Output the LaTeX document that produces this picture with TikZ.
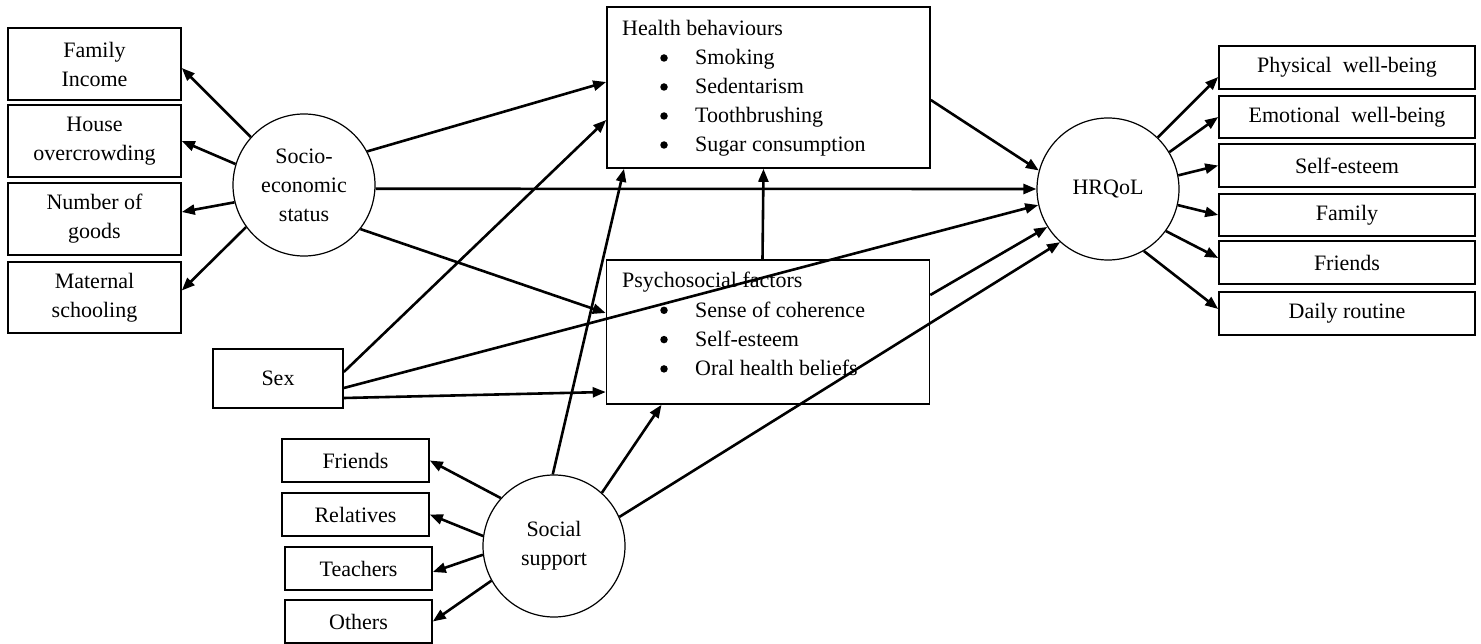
\documentclass[tikz,border=0pt]{standalone}
\usepackage{fontspec}
\setmainfont{Liberation Serif}
\usetikzlibrary{arrows.meta}

\begin{document}
\begin{tikzpicture}[x=1pt,y=-1pt,
  txt/.style={font=\fontsize{22}{29}\selectfont},
  box/.style={txt,draw,line width=1.6pt,inner sep=0pt,align=center},
  latent/.style={txt,draw,circle,line width=1.2pt,inner sep=0pt,minimum size=142pt,align=center},
  path/.style={line width=2.6pt,-{Triangle[length=13pt,width=10pt]}},
  item/.style={txt,anchor=base west,inner sep=0pt},
  dot/.style={circle,fill,inner sep=0pt,minimum size=7.5pt}
]
\useasboundingbox (0,0) rectangle (1481,644);

% socio-economic status and its indicators
\node[latent] (ses) at (304,185) {Socio-\\economic\\status};
\node[box,minimum width=173pt,minimum height=72pt] (fi) at (94.5,64) {Family\\Income};
\node[box,minimum width=173pt,minimum height=72pt] (ho) at (94.5,141) {House\\overcrowding};
\node[box,minimum width=173pt,minimum height=72pt] (ng) at (94.5,219) {Number of\\goods};
\node[box,minimum width=173pt,minimum height=71pt] (ms) at (94.5,297.5) {Maternal\\schooling};

% sex
\node[box,minimum width=130pt,minimum height=59pt] (sex) at (278,378.5) {Sex};

% social support and its indicators
\node[latent] (soc) at (554,546) {Social\\support};
\node[box,minimum width=147pt,minimum height=43pt] (sf) at (355.5,460.5) {Friends};
\node[box,minimum width=147pt,minimum height=43pt] (sr) at (355.5,514.5) {Relatives};
\node[box,minimum width=147pt,minimum height=43pt] (st) at (358.5,568.5) {Teachers};
\node[box,minimum width=147pt,minimum height=43pt] (so) at (358.5,621.5) {Others};

% mediators
\node[box,minimum width=323pt,minimum height=161pt] (hb) at (768.5,87.5) {};
\node[item] (hbt) at (622,36) {Health\ behaviours};
\foreach \t [count=\i] in {Smoking,Sedentarism,Toothbrushing,Sugar consumption}{
  \node[dot] (hbb\i) at (664,{29+29*\i}) {};
  \node[item] (hbi\i) at (695,{36+29*\i}) {\t};
}
\node[box,minimum width=323pt,minimum height=144pt] (psy) at (768,332) {};
\node[item] (psyt) at (622,288) {Psychosocial factors};
\foreach \t [count=\i] in {Sense of coherence,Self-esteem,Oral health\ beliefs}{
  \node[dot] (psyb\i) at (664,{281+29.3*\i}) {};
  \node[item] (psyi\i) at (695,{288+29.3*\i}) {\t};
}

% outcome and its dimensions
\node[latent] (hrq) at (1108,189) {HRQoL};
\node[box,minimum width=256pt,minimum height=43pt] (pw) at (1347,67.5) {Physical\ \ well-being};
\node[box,minimum width=256pt,minimum height=42pt] (ew) at (1347,117) {Emotional\ \ well-being};
\node[box,minimum width=256pt,minimum height=43pt] (se) at (1347,165.5) {Self-esteem};
\node[box,minimum width=256pt,minimum height=42pt] (fa) at (1347,215) {Family};
\node[box,minimum width=256pt,minimum height=43pt] (fr) at (1347,262.5) {Friends};
\node[box,minimum width=256pt,minimum height=43pt] (dr) at (1347,313.5) {Daily\ routine};

% measurement arrows
\draw[path] (ses.138) -- ([yshift=-4pt]fi.east);
\draw[path] (ses.163) -- (ho.east);
\draw[path] (ses.194) -- ([yshift=7pt]ng.east);
\draw[path] (ses.216) -- ([yshift=7pt]ms.east);
\draw[path] (soc.138) -- (sf.east);
\draw[path] (soc.172) -- (sr.east);
\draw[path] (soc.187) -- ([yshift=-3.5pt]st.east);
\draw[path] (soc.209) -- (so.east);
\draw[path] (hrq.46) -- ([yshift=-9.5pt]pw.west);
\draw[path] (hrq.31) -- (ew.west);
\draw[path] (hrq.11) -- (se.west);
\draw[path] (hrq.-13) -- (fa.west);
\draw[path] (hrq.-36) -- ([yshift=4.5pt]fr.west);
\draw[path] (hrq.-60) -- ([yshift=4.5pt]dr.west);

% structural paths
\draw[path] (ses.28) -- ([yshift=5.5pt]hb.west);
\draw[path] (ses.-3) -- (hrq.west);
\draw[path] (ses.-38) -- ([yshift=19pt]psy.west);
\draw[path] ([yshift=6.5pt]sex.east) -- ([yshift=-32.5pt]hb.west);
\draw[path] ([yshift=-9.5pt]sex.east) -- (hrq.193);
\draw[path] ([yshift=-19.5pt]sex.east) -- ([yshift=-60pt]psy.west);
\draw[path] (soc.91) -- ([xshift=-144.5pt]hb.south);
\draw[path] (soc.48) -- ([xshift=-106.5pt]psy.south);
\draw[path] (soc.24) -- (hrq.228);
\draw[path] ([xshift=-5.5pt]psy.north) -- ([xshift=-5pt]hb.south);
\draw[path] ([yshift=-12.5pt]hb.east) -- (hrq.165);
\draw[path] ([yshift=37pt]psy.east) -- (hrq.212);
\end{tikzpicture}
\end{document}
